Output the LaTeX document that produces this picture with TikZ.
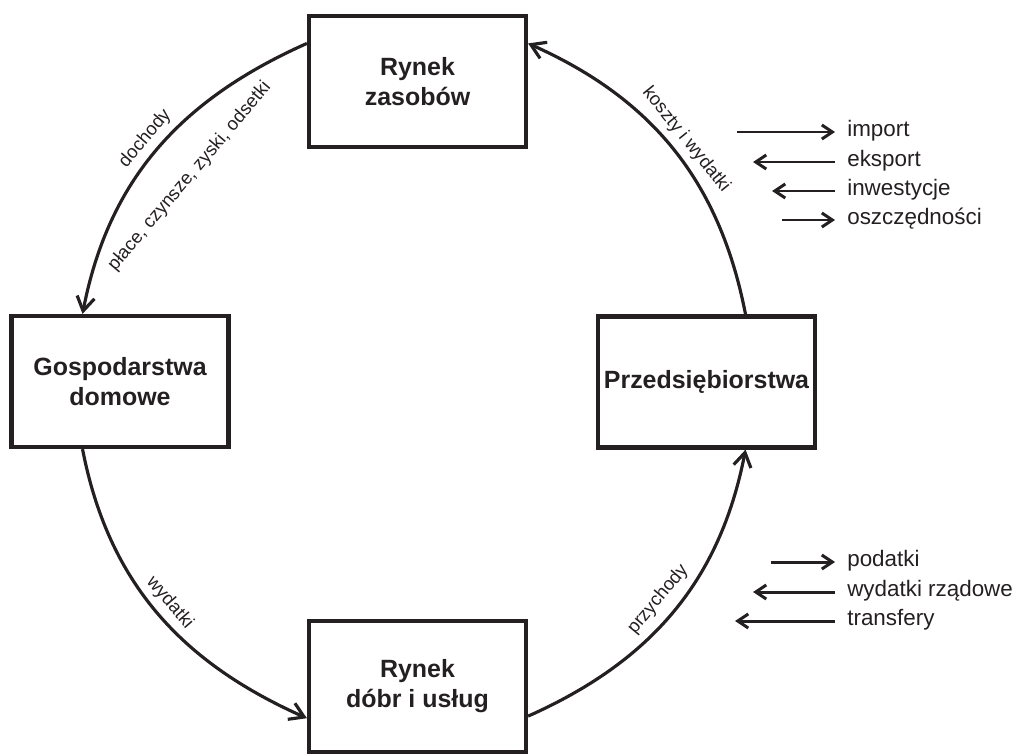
\documentclass[tikz,border=0pt]{standalone}
\usepackage{fontspec}
\setmainfont{Liberation Sans}
\usetikzlibrary{arrows.meta}
\definecolor{inkblack}{rgb}{.14,.12,.13}

\tikzset{
    box/.style={draw=inkblack, line width=2.4pt, minimum width=4.34cm, minimum height=2.62cm, align=center, text=inkblack, font=\fontsize{14.2}{17}\selectfont\bfseries},
    flow/.style={draw=inkblack, line width=1.8pt, ->},
    flowlabel/.style={midway, sloped, text=inkblack, font=\fontsize{10.5}{12}\selectfont},
    sidelabel/.style={anchor=west, inner xsep=6.8pt, text=inkblack, text height=1.2ex, text depth=0.2ex, font=\fontsize{12.75}{15}\selectfont},
    sidearrow/.style={draw=inkblack, line width=1.7pt, -{Straight Barb[length=6pt,width=8pt]}}
}

\begin{document}
\begin{tikzpicture}[x=0.02cm, y=0.02cm, >={Straight Barb[length=8pt,width=10pt]}]
\useasboundingbox (0,0) rectangle (1016,755);

\node[box] (zasoby) at (417.5,673.5) {Rynek\\zasobów};
\node[box] (gosp) at (120,373.5) {Gospodarstwa\\domowe};
\node[box] (przeds) at (706.5,373) {Przedsiębiorstwa};
\node[box] (dobra) at (417.5,68.5) {Rynek\\dóbr i usług};

\draw[flow] (zasoby.161) to[out=204, in=79]
    node[flowlabel, above] {dochody}
    node[flowlabel, below=15pt] {płace, czynsze, zyski, odsetki} (gosp.119);
\draw[flow] (przeds.60) to[out=101, in=-24]
    node[flowlabel, above] {koszty i wydatki} (zasoby.19);
\draw[flow] (gosp.241) to[out=-79, in=156]
    node[flowlabel, above] {wydatki} (dobra.196);
\draw[flow] (dobra.345) to[out=24, in=-101]
    node[flowlabel, above=2pt] {przychody} (przeds.300);

\foreach \name/\y/\x/\txt in {imp/623/737/import, osz/535/782/oszczędności, pod/193/771/podatki}
{
    \node[sidelabel] (\name) at (835,\y) {\txt};
    \coordinate (\name-tail) at (\x,\y);
    \draw[sidearrow] (\name-tail) -- (\name.west);
}
\foreach \name/\y/\x/\txt in {eks/593/753/eksport, inw/564/772/inwestycje, wyd/163/753/wydatki rządowe, tra/134/735/transfery}
{
    \node[sidelabel] (\name) at (835,\y) {\txt};
    \coordinate (\name-tip) at (\x,\y);
    \draw[sidearrow] (\name.west) -- (\name-tip);
}
\end{tikzpicture}
\end{document}
